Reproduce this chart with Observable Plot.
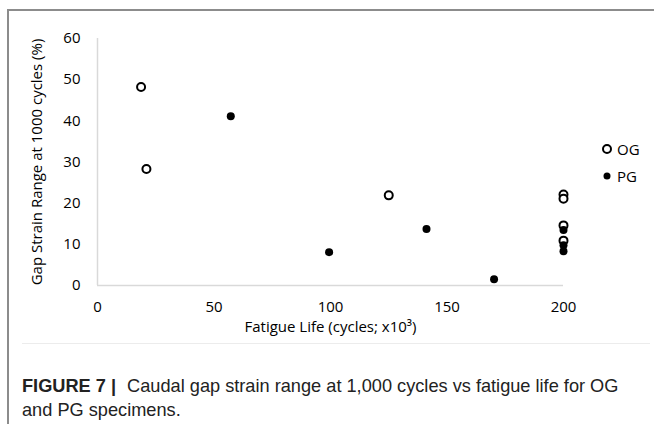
<!DOCTYPE html>
<html>
<head>
<meta charset="utf-8">
<script src="https://cdn.jsdelivr.net/npm/d3@7"></script>
<script src="https://cdn.jsdelivr.net/npm/@observablehq/plot@0.6"></script>
<style>
  html, body { margin: 0; padding: 0; background: #fff; }
  #wrap { position: relative; width: 654px; height: 424px; overflow: hidden; }
  #frame { position: absolute; left: 7px; top: 9px; width: 660px; height: 430px;
           border-left: 2px solid #8c8c8c; border-top: 2px solid #8c8c8c; }
  #chart { position: absolute; left: 0; top: 0; }
  #sep { position: absolute; left: 22px; top: 343px; width: 628px; height: 1px; background: #ececec; }
  #legend { position: absolute; left: 600px; top: 135px; font-family: "Open Sans", sans-serif; font-size: 15px; color: #000; }
  #legend div { height: 27px; display: flex; align-items: center; }
  #legend svg { margin-right: 3px; }
  #caption { position: absolute; left: 22px; top: 374px; width: 612px; font-family: "Liberation Sans", Arial, sans-serif;
             font-size: 18.2px; line-height: 24px; color: #222; }
  #caption b { font-weight: bold; margin-right: 6px; }
</style>
</head>
<body>
<div id="wrap">
  <div id="frame"></div>
  <div id="chart"></div>
  <div id="sep"></div>
  <div id="legend"></div>
  <div id="caption"><b>FIGURE 7 |</b> Caudal gap strain range at 1,000 cycles vs fatigue life for OG and PG specimens.</div>
</div>
<script>
// Data
const ogX = [18.7, 21, 125, 200, 200, 200, 200];
const ogY = [48.2, 28.3, 21.9, 22.1, 21.1, 14.6, 10.9];
const pgX = [57.2, 99.4, 141.2, 170.2, 200, 200, 200];
const pgY = [41.1, 8.1, 13.7, 1.5, 13.5, 9.8, 8.3];
const xTicks = [0, 50, 100, 150, 200];
const yTicks = [0, 10, 20, 30, 40, 50, 60];
const seriesNames = ["OG", "PG"];

const og = ogX.map((x, i) => ({x, y: ogY[i]}));
const pg = pgX.map((x, i) => ({x, y: pgY[i]}));

const chart = Plot.plot({
  width: 654,
  height: 345,
  marginLeft: 97,
  marginRight: 91,
  marginTop: 38,
  marginBottom: 60,
  style: { fontFamily: "'Open Sans', sans-serif", fontSize: "14px", color: "#000", background: "transparent" },
  x: { domain: [0, 200], ticks: xTicks, tickSize: 0, label: null },
  y: { domain: [0, 60], ticks: yTicks, tickSize: 0, label: null },
  marks: [
    Plot.ruleY([0], { stroke: "#d9d9d9", strokeWidth: 1.5 }),
    Plot.ruleX([0], { stroke: "#d9d9d9", strokeWidth: 1.5 }),
    Plot.axisX({ ticks: xTicks, tickSize: 0, tickPadding: 16, fontSize: 15, label: null }),
    Plot.axisY({ ticks: yTicks, tickSize: 0, tickPadding: 17, fontSize: 15, label: null }),
    Plot.dot(og, { x: "x", y: "y", r: 4, stroke: "#000", strokeWidth: 2, fill: "#fff" }),
    Plot.dot(pg, { x: "x", y: "y", r: 4, fill: "#000", stroke: "none" }),
    Plot.text(["Fatigue Life (cycles; x10³)"], { frameAnchor: "bottom", dy: 46, fontSize: 15, textAnchor: "middle" }),
    Plot.text(["Gap Strain Range at 1000 cycles (%)"], { frameAnchor: "left", dx: -60, rotate: -90, fontSize: 15, textAnchor: "middle" })
  ]
});
document.getElementById("chart").appendChild(chart);

// Legend
const leg = document.getElementById("legend");
seriesNames.forEach((name, i) => {
  const row = document.createElement("div");
  const sym = i === 0
    ? '<svg width="14" height="14"><circle cx="7" cy="7" r="4" fill="#fff" stroke="#000" stroke-width="2"/></svg>'
    : '<svg width="14" height="14"><circle cx="7" cy="7" r="3.5" fill="#000"/></svg>';
  row.innerHTML = sym + '<span>' + name + '</span>';
  leg.appendChild(row);
});
</script>
</body>
</html>
